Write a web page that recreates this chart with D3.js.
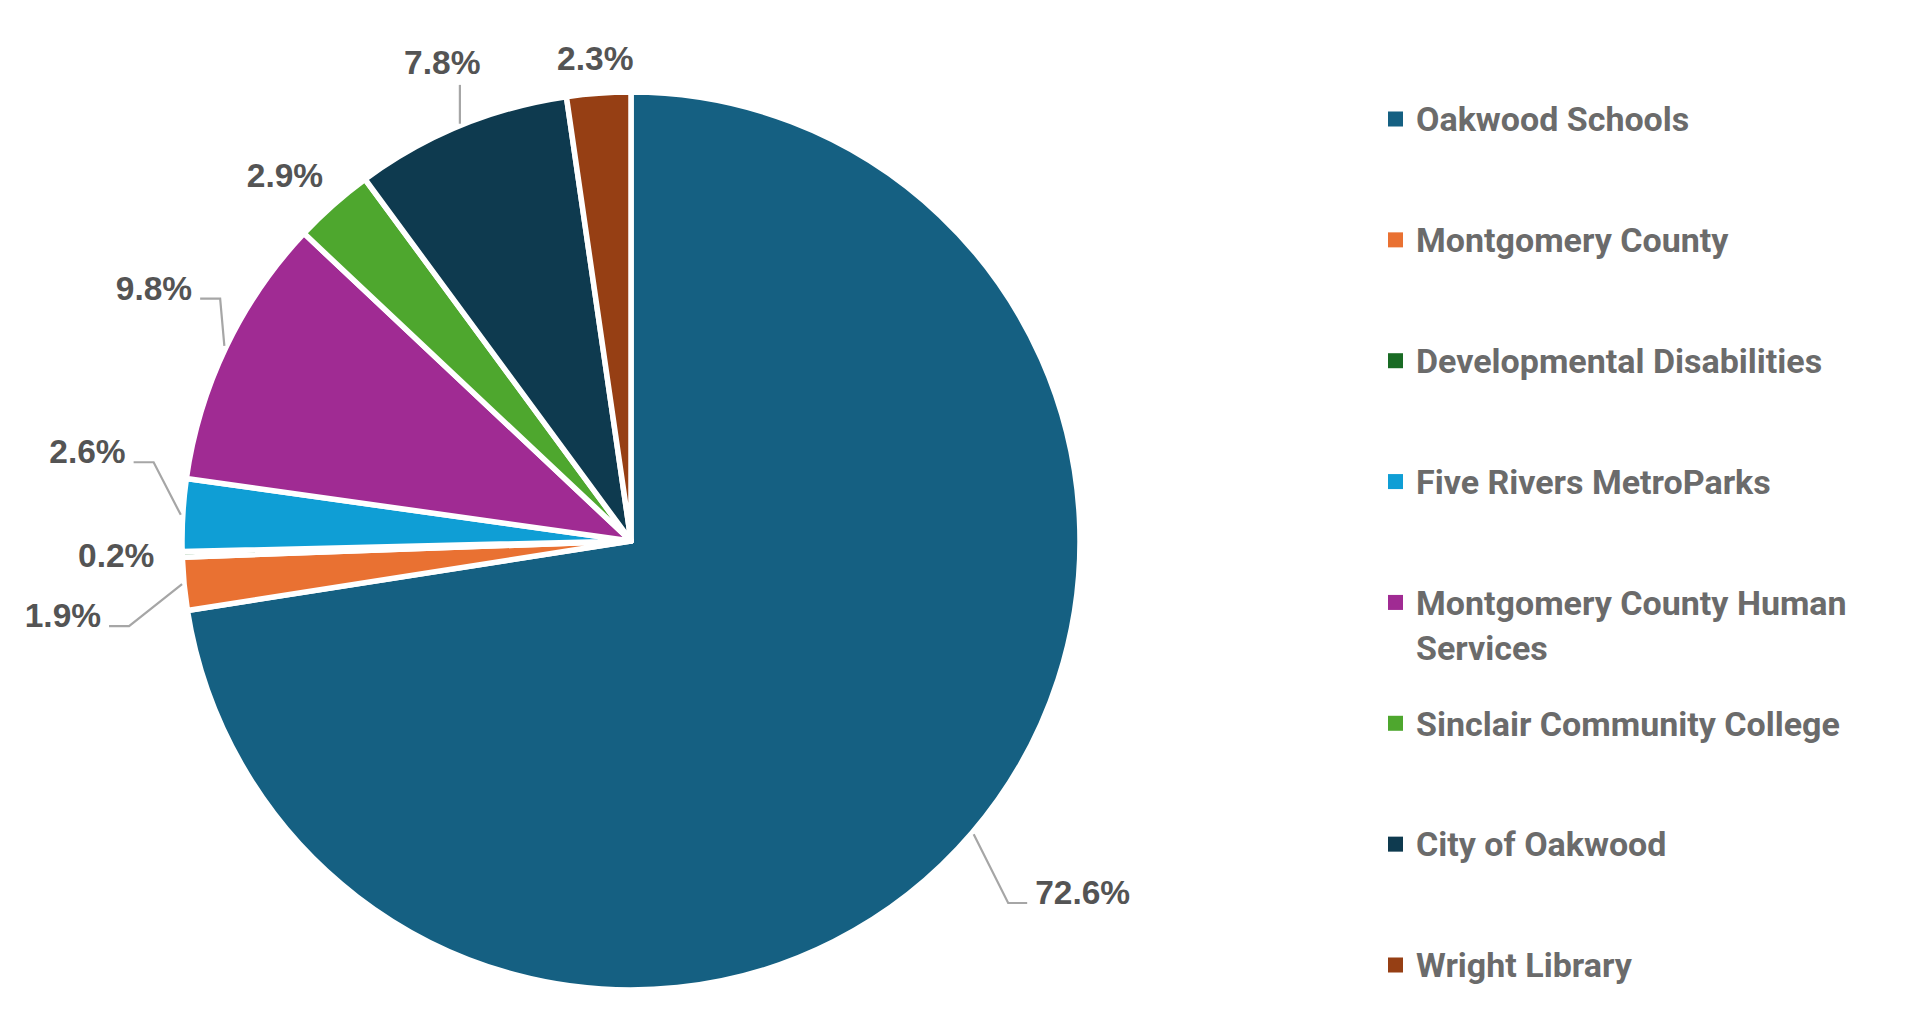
<!DOCTYPE html>
<html>
<head>
<meta charset="utf-8">
<script src="https://cdn.jsdelivr.net/npm/d3@7"></script>
<style>
  html, body { margin: 0; padding: 0; background: #fff; }
  svg { display: block; }
</style>
</head>
<body>
<svg id="chart" width="1920" height="1020"></svg>
<script>
const categories = [
    'Oakwood Schools',
    'Montgomery County',
    'Developmental Disabilities',
    'Five Rivers MetroParks',
    'Montgomery County Human Services',
    'Sinclair Community College',
    'City of Oakwood',
    'Wright Library'
]
const shares = [72.6, 1.9, 0.2, 2.6, 9.8, 2.9, 7.8, 2.3]
const shareLabels = ['72.6%', '1.9%', '0.2%', '2.6%', '9.8%', '2.9%', '7.8%', '2.3%']
const colors = ['#156082', '#E97132', '#196B24', '#0F9ED5', '#A02B93', '#4EA72E', '#0E3A4F', '#963F14']

// where each data label sits: angle shift from slice middle (deg), distance in radii
const labelShift = [-2.7, -1.94, 0.15, 6.05, 2.35, -1.85, 0.8, -0.1]
const labelDist = [1.274, 1.276, 1.147, 1.227, 1.203, 1.122, 1.147, 1.078]
const hasLeader = [true, true, false, true, true, false, true, false]

const width = 1920
const height = 1020
const cx = 631
const cy = 541
const radius = 449

const svg = d3.select('#chart')
const data = categories.map((c, i) => ({ name: c, value: shares[i], label: shareLabels[i], i }))

const color = d3.scaleOrdinal().domain(categories).range(colors)
const pie = d3.pie().sort(null).value(d => d.value)
const arcs = pie(data)
const arc = d3.arc().innerRadius(0).outerRadius(radius)

const plot = svg.append('g').attr('transform', `translate(${cx},${cy})`)

plot.selectAll('path.slice')
    .data(arcs)
    .join('path')
    .attr('class', 'slice')
    .attr('d', arc)
    .attr('fill', d => color(d.data.name))
    .attr('stroke', '#fff')
    .attr('stroke-width', 5.5)
    .attr('stroke-linejoin', 'round')

const polar = (a, r) => [r * Math.sin(a), -r * Math.cos(a)]
const rad = Math.PI / 180

const labels = plot.append('g')
    .attr('font-family', '"Liberation Sans", Arial, sans-serif')
    .attr('font-weight', 700)
    .attr('font-size', 33.5)
    .attr('fill', '#545454')

arcs.forEach(d => {
    const i = d.data.i
    const mid = (d.startAngle + d.endAngle) / 2
    const [lx, ly] = polar(mid + labelShift[i] * rad, labelDist[i] * radius)
    const t = labels.append('text')
        .attr('x', lx)
        .attr('y', ly)
        .attr('dy', '0.36em')
        .attr('text-anchor', 'middle')
        .text(d.data.label)

    if (!hasLeader[i]) return
    const box = t.node().getBBox()
    const [ex, ey] = polar(mid, radius + 2)
    let pts
    if (Math.abs(ly) > Math.abs(lx) * 2) {
        // label above the pie: straight line up to the text
        pts = [[ex, ey], [ex, box.y + box.height + 4]]
    } else {
        const right = lx > 0
        const endX = right ? box.x - 8 : box.x + box.width + 8
        const yy = ly + 11
        const elbowX = right ? endX - 19 : endX + 20
        pts = [[ex, ey], [elbowX, yy], [endX, yy]]
    }
    plot.insert('path', 'g')
        .attr('d', d3.line()(pts))
        .attr('fill', 'none')
        .attr('stroke', '#a6a6a6')
        .attr('stroke-width', 2.2)
})

// legend
const legendY = d3.scalePoint().domain(categories).range([119, 965])
const legendX = 1388
const maxTextWidth = 480

const legend = svg.append('g')
    .attr('font-family', 'Roboto, "Noto Sans", sans-serif')
    .attr('font-weight', 700)
    .attr('font-size', 34)
    .attr('fill', '#6b6b6b')

categories.forEach(c => {
    const y = legendY(c)
    legend.append('rect')
        .attr('x', legendX)
        .attr('y', y - 7.5)
        .attr('width', 15)
        .attr('height', 15)
        .attr('fill', color(c))
    const t = legend.append('text')
        .attr('x', legendX + 28)
        .attr('y', y)
        .attr('dy', '0.36em')
    // wrap long names like the original legend
    const words = c.split(' ')
    let line = []
    let tspan = t.append('tspan').attr('x', legendX + 28)
    words.forEach(w => {
        line.push(w)
        tspan.text(line.join(' '))
        if (tspan.node().getComputedTextLength() > maxTextWidth && line.length > 1) {
            line.pop()
            tspan.text(line.join(' '))
            line = [w]
            tspan = t.append('tspan').attr('x', legendX + 28).attr('dy', 45).text(w)
        }
    })
})
</script>
</body>
</html>
